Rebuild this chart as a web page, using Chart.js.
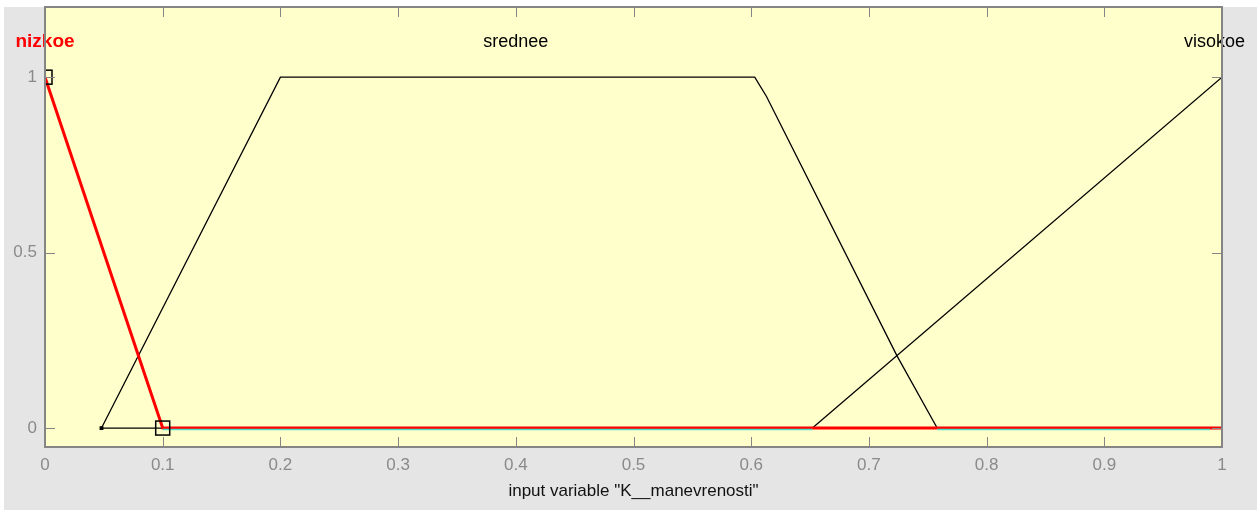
<!DOCTYPE html>
<html>
<head>
<meta charset="utf-8">
<script src="https://cdn.jsdelivr.net/npm/chart.js@4"></script>
<style>
  html, body { margin: 0; padding: 0; background: #fff; }
  #wrap { width: 1257px; height: 510px; }
</style>
</head>
<body>
<div id="wrap"><canvas id="myChart" width="1257" height="510"></canvas></div>
<script>
// membership functions of input variable "K__manevrenosti"
const nizkoeX = [0, 0.1, 1];
const nizkoeY = [1, 0, 0];

const sredneeX = [0.1, 0.048, 0.2, 0.603, 0.613, 0.724, 0.758];
const sredneeY = [0, 0, 1, 1, 0.945, 0.205, 0];

const visokoeX = [0.652, 1];
const visokoeY = [0, 1];

// turquoise trace along the zero line
const baseX = [0.1, 0.652, 0.705, 0.758, 0.99];
const baseY = [-0.004, -0.004, null, -0.004, -0.004];

// square handles of the selected function
const handleX = [0, 0.1];
const handleY = [1, 0];

const mfNames = ["nizkoe", "srednee", "visokoe"];
const mfNameX = [0, 0.4, 1];
const mfNameY = 1.1;

const xTicks = [0, 0.1, 0.2, 0.3, 0.4, 0.5, 0.6, 0.7, 0.8, 0.9, 1];
const yTicks = [0, 0.5, 1];

const FONT = "'Liberation Sans', Arial, sans-serif";

function pts(xs, ys) {
  return xs.map((x, i) => ({ x: x, y: ys[i] }));
}

const frame = {
  id: "frame",
  beforeDraw(chart) {
    const ctx = chart.ctx;
    const a = chart.chartArea;
    ctx.save();
    ctx.fillStyle = "#ffffff";
    ctx.fillRect(0, 0, chart.width, chart.height);
    ctx.fillStyle = "#e5e5e5";
    ctx.fillRect(4, 7, chart.width - 4, chart.height - 7);
    ctx.fillStyle = "#ffffcc";
    ctx.fillRect(a.left, a.top, a.right - a.left, a.bottom - a.top);
    ctx.restore();
  },
  afterDatasetsDraw(chart) {
    const ctx = chart.ctx;
    const a = chart.chartArea;
    const xs = chart.scales.x, ys = chart.scales.y;

    // handles
    ctx.save();
    ctx.beginPath();
    ctx.rect(a.left, a.top, a.right - a.left, a.bottom - a.top);
    ctx.clip();
    ctx.strokeStyle = "#000000";
    ctx.lineWidth = 1.5;
    handleX.forEach((hx, i) => {
      const px = xs.getPixelForValue(hx), py = ys.getPixelForValue(handleY[i]);
      ctx.strokeRect(px - 7, py - 7, 14, 14);
    });
    ctx.restore();

    // function names
    ctx.save();
    ctx.textBaseline = "middle";
    ctx.textAlign = "center";
    mfNames.forEach((name, i) => {
      ctx.font = (i === 0 ? "bold 19px " : "18px ") + FONT;
      ctx.fillStyle = i === 0 ? "#ff0000" : "#000000";
      const w = ctx.measureText(name).width;
      let cx = xs.getPixelForValue(mfNameX[i]);
      cx = Math.max(cx, w / 2 + 10);
      cx = Math.min(cx, chart.width - 12 - w / 2);
      ctx.fillText(name, cx, ys.getPixelForValue(mfNameY));
    });
    ctx.restore();
  },
  afterDraw(chart) {
    const ctx = chart.ctx;
    const a = chart.chartArea;
    const xs = chart.scales.x, ys = chart.scales.y;
    ctx.save();
    ctx.strokeStyle = "#858585";
    ctx.lineWidth = 1;
    ctx.beginPath();
    xTicks.forEach(v => {
      const px = Math.round(xs.getPixelForValue(v)) + 0.5;
      ctx.moveTo(px, a.bottom); ctx.lineTo(px, a.bottom - 10);
      ctx.moveTo(px, a.top); ctx.lineTo(px, a.top + 10);
    });
    yTicks.forEach(v => {
      const py = Math.round(ys.getPixelForValue(v)) + 0.5;
      ctx.moveTo(a.left, py); ctx.lineTo(a.left + 10, py);
      ctx.moveTo(a.right, py); ctx.lineTo(a.right - 10, py);
    });
    ctx.stroke();
    ctx.lineWidth = 2;
    ctx.strokeRect(a.left, a.top, a.right - a.left, a.bottom - a.top);
    ctx.restore();
  }
};

const data = {
  datasets: [
    {
      data: pts(baseX, baseY),
      showLine: true,
      spanGaps: false,
      borderColor: "#4fdcc8",
      borderWidth: 1.6,
      pointRadius: 0,
      order: 1
    },
    {
      data: pts(nizkoeX, nizkoeY),
      showLine: true,
      borderColor: "#ff0000",
      borderWidth: 3,
      pointRadius: 0,
      order: 2
    },
    {
      data: pts(sredneeX, sredneeY),
      showLine: true,
      borderColor: "#000000",
      borderWidth: 1.3,
      pointRadius: sredneeX.map(x => (x === 0.048 ? 1.8 : 0)),
      pointStyle: "rect",
      pointBackgroundColor: "#000000",
      pointBorderColor: "#000000",
      order: 3
    },
    {
      data: pts(visokoeX, visokoeY),
      showLine: true,
      borderColor: "#000000",
      borderWidth: 1.3,
      pointRadius: 0,
      order: 4
    }
  ]
};

const config = {
  type: "scatter",
  data: data,
  plugins: [frame],
  options: {
    responsive: false,
    animation: false,
    events: [],
    layout: { padding: { left: 0, top: 7, right: 35, bottom: 0 } },
    plugins: {
      legend: { display: false },
      tooltip: { enabled: false }
    },
    scales: {
      x: {
        type: "linear",
        min: 0,
        max: 1,
        afterBuildTicks: s => { s.ticks = xTicks.map(v => ({ value: v })); },
        afterFit: s => { s.height = 63; s.paddingLeft = 0; s.paddingRight = 0; },
        grid: { display: false, drawTicks: false },
        border: { display: false },
        ticks: {
          padding: 8,
          color: "#8a8a8a",
          font: { family: FONT, size: 17 },
          maxRotation: 0,
          callback: v => String(v)
        },
        title: {
          display: true,
          text: 'input variable "K__manevrenosti"',
          color: "#111111",
          font: { family: FONT, size: 17 },
          padding: { top: 0, bottom: 8 }
        }
      },
      y: {
        type: "linear",
        min: -0.054,
        max: 1.2,
        afterBuildTicks: s => { s.ticks = yTicks.map(v => ({ value: v })); },
        afterFit: s => { s.width = 45; s.paddingTop = 0; s.paddingBottom = 0; },
        grid: { display: false, drawTicks: false },
        border: { display: false },
        ticks: {
          padding: 8,
          color: "#8a8a8a",
          font: { family: FONT, size: 17 },
          callback: v => String(v)
        }
      }
    }
  }
};

const ctx = document.getElementById("myChart").getContext("2d");
new Chart(ctx, config);
</script>
</body>
</html>
